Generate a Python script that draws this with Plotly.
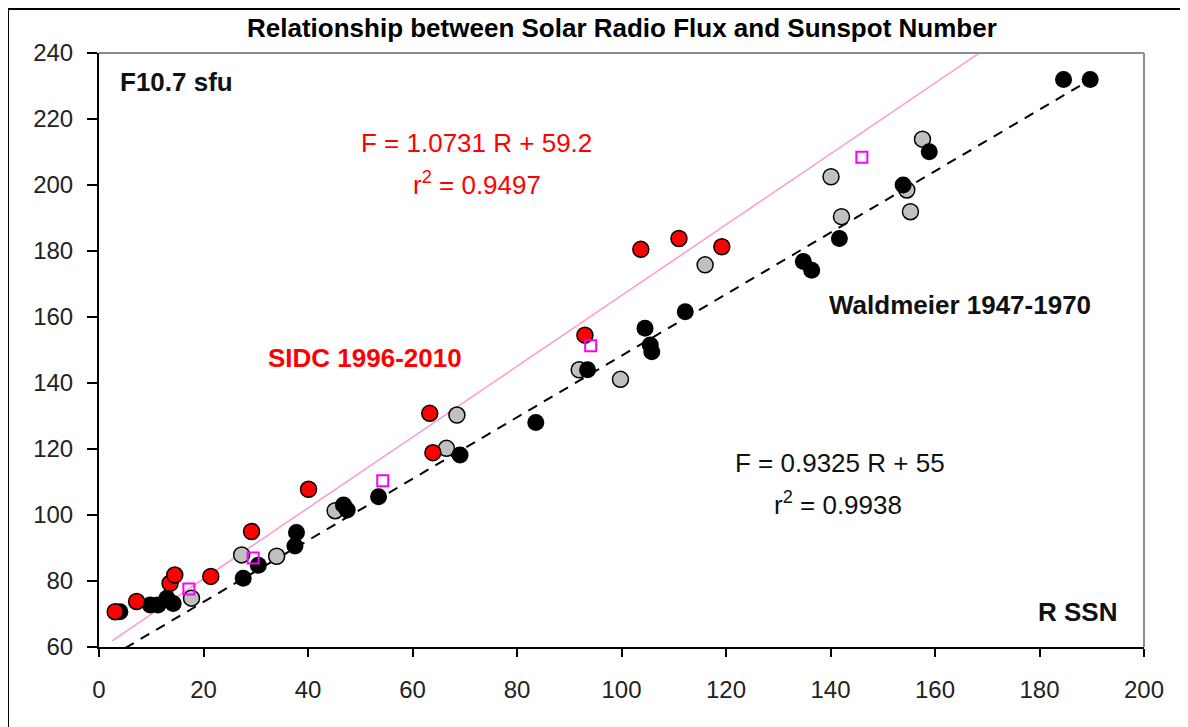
import plotly.graph_objects as go

# ---- data ----
wald_R = [4.0, 9.8, 11.3, 13.0, 14.2, 27.6, 30.5, 37.5, 37.8, 46.8, 47.5, 53.5, 69.1,
          83.6, 93.5, 104.5, 105.5, 105.8, 112.2, 134.8, 136.4, 141.7, 153.9, 158.9, 184.6, 189.7]
wald_F = [70.7, 72.7, 72.7, 74.8, 73.2, 80.8, 84.8, 90.6, 94.7, 103.0, 101.5, 105.5, 118.2,
          128.0, 144.0, 156.6, 151.5, 149.5, 161.6, 176.8, 174.2, 183.8, 200.0, 210.1, 232.0, 232.0]

gray_R = [17.7, 27.3, 34.0, 45.2, 66.5, 68.5, 91.9, 99.8, 116.0, 140.1, 142.1, 154.6, 155.3, 157.6]
gray_F = [74.8, 87.9, 87.5, 101.3, 120.2, 130.3, 144.0, 141.1, 175.8, 202.5, 190.4, 198.5, 191.9, 213.9]

sidc_R = [3.1, 7.2, 13.6, 14.5, 21.4, 29.2, 40.1, 63.3, 63.9, 93.0, 103.7, 111.0, 119.2]
sidc_F = [70.7, 73.8, 79.3, 81.8, 81.4, 95.0, 107.8, 130.8, 118.9, 154.5, 180.5, 183.8, 181.3]

mag_R = [17.2, 29.5, 54.3, 94.1, 146.0]
mag_F = [77.6, 87.0, 110.4, 151.3, 208.4]

# trend lines (coefficients printed on the chart)
sidc_slope, sidc_icpt = 1.0731, 59.2
wald_slope, wald_icpt = 0.9325, 55.0
sidc_line_R = [2.5, 168.5]
wald_line_R = [5.0, 190.0]

x_ticks = list(range(0, 201, 20))
y_ticks = list(range(60, 241, 20))

FONT = "Arial, Liberation Sans, sans-serif"

fig = go.Figure()

fig.add_trace(go.Scatter(
    x=sidc_line_R, y=[sidc_slope * r + sidc_icpt for r in sidc_line_R],
    mode="lines", line=dict(color="#ff99cc", width=1.5), hoverinfo="skip"))
fig.add_trace(go.Scatter(
    x=wald_line_R, y=[wald_slope * r + wald_icpt for r in wald_line_R],
    mode="lines", line=dict(color="black", width=2, dash="10px,8px"), hoverinfo="skip"))

fig.add_trace(go.Scatter(
    x=gray_R, y=gray_F, mode="markers",
    marker=dict(symbol="circle", size=16, color="#c0c0c0", line=dict(color="black", width=1.5))))
fig.add_trace(go.Scatter(
    x=wald_R, y=wald_F, mode="markers",
    marker=dict(symbol="circle", size=17, color="black", line=dict(color="black", width=0))))
fig.add_trace(go.Scatter(
    x=sidc_R, y=sidc_F, mode="markers",
    marker=dict(symbol="circle", size=16, color="#ff0000", line=dict(color="black", width=1.5))))
fig.add_trace(go.Scatter(
    x=mag_R, y=mag_F, mode="markers",
    marker=dict(symbol="square-open", size=11, color="#ff00ff", line=dict(color="#ff00ff", width=2))))

annos = [
    dict(x=0.5, y=1.042, xref="paper", yref="paper",
         text="<b>Relationship between Solar Radio Flux and Sunspot Number</b>",
         font=dict(size=26, color="black")),
    dict(x=14.8, y=231.2, text="<b>F10.7 sfu</b>", font=dict(size=26, color="#111")),
    dict(x=72.3, y=212.7, text="F = 1.0731 R + 59.2", font=dict(size=26, color="#ff0000")),
    dict(x=72.3, y=200.6, text="r<sup>2</sup> = 0.9497", font=dict(size=26, color="#ff0000")),
    dict(x=50.9, y=147.6, text="<b>SIDC 1996-2010</b>", font=dict(size=26, color="#ff0000")),
    dict(x=164.7, y=163.6, text="<b>Waldmeier 1947-1970</b>", font=dict(size=26, color="#111")),
    dict(x=141.8, y=115.8, text="F = 0.9325 R + 55", font=dict(size=26, color="#111")),
    dict(x=141.4, y=103.6, text="r<sup>2</sup> = 0.9938", font=dict(size=26, color="#111")),
    dict(x=187.3, y=70.6, text="<b>R SSN</b>", font=dict(size=26, color="#111")),
]
for a in annos:
    a.setdefault("xref", "x")
    a.setdefault("yref", "y")
    a.update(showarrow=False, xanchor="center", yanchor="middle")
    a["font"]["family"] = FONT

fig.update_layout(
    width=1188, height=727,
    margin=dict(l=91, r=52, t=45, b=88),
    paper_bgcolor="white", plot_bgcolor="white",
    showlegend=False,
    font=dict(family=FONT, size=24, color="#222"),
    annotations=annos,
    shapes=[
        # outer chart frame
        dict(type="rect", xref="paper", yref="paper",
             x0=-0.0871, x1=1.0364, y0=-0.16, y1=1.074,
             line=dict(color="black", width=2), layer="below"),
        # grey top and right edges of plot area
        dict(type="line", xref="paper", yref="paper", x0=0, x1=1, y0=1, y1=1,
             line=dict(color="#8c8c8c", width=2)),
        dict(type="line", xref="paper", yref="paper", x0=1, x1=1, y0=0, y1=1,
             line=dict(color="#8c8c8c", width=2)),
    ],
)

fig.update_xaxes(
    range=[0, 200], tickvals=x_ticks, ticktext=[str(v) for v in x_ticks],
    showgrid=False, zeroline=False, showline=True, linecolor="black", linewidth=2,
    ticks="outside", ticklen=8, tickwidth=2, tickcolor="black",
    ticklabelstandoff=12, tickfont=dict(size=24, color="#222"))
fig.update_yaxes(
    range=[60, 240], tickvals=y_ticks, ticktext=[str(v) for v in y_ticks],
    showgrid=False, zeroline=False, showline=True, linecolor="black", linewidth=2,
    ticks="outside", ticklen=10, tickwidth=2, tickcolor="black",
    ticklabelstandoff=9, tickfont=dict(size=24, color="#222"))

fig.write_html("out.html")
